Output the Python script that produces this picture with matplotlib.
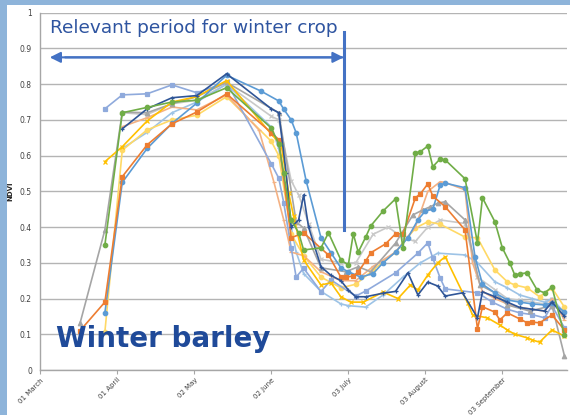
import matplotlib
matplotlib.use("Agg")
import matplotlib.pyplot as plt
from matplotlib.patches import Rectangle

# ---------------- data (days since 01 March, NDVI) ----------------
tick_days = [0, 31, 62, 93, 124, 155, 186]
tick_labels = ["01 March", "01 April", "02 May", "02 June", "03 July", "03 August", "03 September"]

periwinkle_days = [26, 33, 43, 53, 63, 75, 93, 96, 98, 101, 103, 106, 113, 117, 127, 131, 143, 152, 156, 158, 161, 163, 176, 182, 188, 193, 198, 203, 206, 211]
periwinkle_ndvi = [0.731, 0.770, 0.773, 0.798, 0.776, 0.805, 0.577, 0.537, 0.468, 0.342, 0.26, 0.285, 0.219, 0.252, 0.207, 0.221, 0.272, 0.327, 0.356, 0.313, 0.257, 0.227, 0.216, 0.19, 0.17, 0.16, 0.155, 0.146, 0.18, 0.118]

darkblue_days = [33, 43, 53, 63, 75, 93, 96, 99, 101, 104, 106, 108, 113, 117, 121, 124, 127, 131, 138, 143, 148, 152, 156, 160, 163, 170, 176, 178, 183, 188, 193, 198, 203, 206, 211]
darkblue_ndvi = [0.675, 0.731, 0.762, 0.768, 0.829, 0.731, 0.72, 0.55, 0.40, 0.42, 0.49, 0.40, 0.289, 0.265, 0.25, 0.224, 0.205, 0.205, 0.215, 0.22, 0.272, 0.21, 0.246, 0.235, 0.207, 0.216, 0.146, 0.219, 0.205, 0.19, 0.175, 0.17, 0.165, 0.19, 0.15]

green_days = [26, 33, 43, 53, 63, 75, 93, 96, 98, 101, 104, 106, 113, 116, 121, 124, 126, 128, 131, 133, 138, 143, 146, 151, 153, 156, 158, 161, 163, 171, 176, 178, 183, 186, 189, 191, 193, 196, 200, 203, 206, 211]
green_ndvi = [0.35, 0.72, 0.735, 0.75, 0.755, 0.79, 0.677, 0.633, 0.55, 0.42, 0.384, 0.336, 0.342, 0.384, 0.308, 0.294, 0.381, 0.33, 0.372, 0.403, 0.445, 0.479, 0.342, 0.608, 0.611, 0.627, 0.569, 0.591, 0.588, 0.535, 0.356, 0.482, 0.415, 0.342, 0.30, 0.266, 0.269, 0.272, 0.224, 0.216, 0.232, 0.098]

orange_days = [16, 26, 33, 43, 53, 63, 75, 93, 96, 101, 106, 116, 121, 123, 126, 128, 131, 133, 139, 143, 146, 151, 153, 156, 158, 163, 171, 176, 178, 183, 185, 188, 193, 196, 198, 201, 206, 211]
orange_ndvi = [0.11, 0.19, 0.541, 0.63, 0.689, 0.722, 0.773, 0.664, 0.645, 0.37, 0.384, 0.322, 0.26, 0.26, 0.263, 0.275, 0.305, 0.328, 0.353, 0.381, 0.381, 0.482, 0.493, 0.521, 0.487, 0.457, 0.392, 0.115, 0.177, 0.162, 0.14, 0.16, 0.143, 0.132, 0.134, 0.132, 0.154, 0.112]

gray_days = [16, 26, 33, 43, 53, 63, 75, 96, 103, 106, 113, 123, 128, 133, 143, 150, 154, 157, 160, 163, 171, 177, 183, 188, 197, 206, 211]
gray_ndvi = [0.131, 0.392, 0.722, 0.72, 0.745, 0.765, 0.805, 0.72, 0.415, 0.397, 0.286, 0.275, 0.289, 0.275, 0.355, 0.434, 0.448, 0.457, 0.467, 0.471, 0.42, 0.238, 0.216, 0.182, 0.165, 0.18, 0.04]

gold_days = [26, 33, 43, 53, 63, 75, 93, 97, 100, 102, 106, 113, 117, 121, 125, 130, 138, 144, 149, 152, 156, 160, 163, 172, 174, 180, 185, 188, 191, 196, 198, 201, 206, 211]
gold_ndvi = [0.583, 0.625, 0.697, 0.75, 0.765, 0.81, 0.66, 0.63, 0.495, 0.43, 0.308, 0.238, 0.244, 0.205, 0.19, 0.19, 0.218, 0.20, 0.238, 0.224, 0.266, 0.30, 0.317, 0.188, 0.154, 0.146, 0.126, 0.112, 0.10, 0.09, 0.084, 0.078, 0.112, 0.095]

steel_days = [26, 33, 43, 53, 63, 75, 89, 96, 98, 101, 103, 107, 113, 117, 121, 124, 129, 134, 138, 143, 148, 152, 155, 158, 161, 163, 171, 175, 178, 183, 188, 193, 198, 203, 206, 211]
steel_ndvi = [0.16, 0.525, 0.62, 0.69, 0.747, 0.825, 0.78, 0.753, 0.73, 0.70, 0.664, 0.53, 0.37, 0.328, 0.286, 0.275, 0.26, 0.27, 0.30, 0.33, 0.37, 0.42, 0.445, 0.45, 0.518, 0.523, 0.51, 0.317, 0.24, 0.216, 0.196, 0.19, 0.185, 0.182, 0.188, 0.163]

salmon_days = [33, 43, 53, 63, 75, 88, 94, 98, 101, 106, 113, 121, 127, 134, 143, 151, 156, 161, 163, 171, 174, 178, 183, 188, 193, 198, 203, 206, 211]
salmon_ndvi = [0.681, 0.706, 0.736, 0.728, 0.77, 0.672, 0.527, 0.42, 0.33, 0.32, 0.275, 0.25, 0.25, 0.29, 0.33, 0.40, 0.50, 0.527, 0.525, 0.504, 0.30, 0.22, 0.20, 0.185, 0.175, 0.17, 0.165, 0.20, 0.14]

lightgold_days = [26, 33, 43, 53, 63, 75, 93, 96, 101, 106, 113, 121, 127, 134, 143, 151, 156, 161, 171, 176, 183, 188, 191, 196, 201, 206, 211]
lightgold_ndvi = [0.107, 0.615, 0.672, 0.70, 0.713, 0.765, 0.64, 0.60, 0.38, 0.32, 0.26, 0.23, 0.24, 0.28, 0.33, 0.397, 0.415, 0.408, 0.372, 0.37, 0.28, 0.247, 0.238, 0.23, 0.205, 0.23, 0.176]

lightsteel_days = [33, 43, 53, 63, 75, 93, 96, 101, 103, 106, 113, 121, 124, 131, 138, 146, 153, 160, 171, 176, 183, 188, 193, 198, 203, 206, 211]
lightsteel_ndvi = [0.62, 0.665, 0.72, 0.75, 0.80, 0.68, 0.62, 0.40, 0.33, 0.27, 0.22, 0.185, 0.18, 0.176, 0.21, 0.26, 0.30, 0.327, 0.322, 0.30, 0.247, 0.23, 0.21, 0.20, 0.19, 0.20, 0.16]

lightgray_days = [33, 43, 53, 63, 75, 93, 96, 101, 104, 108, 113, 121, 127, 134, 140, 146, 151, 156, 161, 171, 176, 183, 188, 193, 198, 203, 206, 211]
lightgray_ndvi = [0.72, 0.715, 0.745, 0.755, 0.80, 0.71, 0.70, 0.53, 0.49, 0.41, 0.31, 0.30, 0.30, 0.38, 0.40, 0.37, 0.36, 0.40, 0.42, 0.41, 0.26, 0.225, 0.20, 0.195, 0.19, 0.185, 0.20, 0.15]

# ---------------- styles ----------------
series = [
    (lightgray_days, lightgray_ndvi, "#C9C9C9", "x"),
    (lightsteel_days, lightsteel_ndvi, "#9DC3E6", "+"),
    (lightgold_days, lightgold_ndvi, "#FFD966", "o"),
    (salmon_days, salmon_ndvi, "#F4B183", "_"),
    (periwinkle_days, periwinkle_ndvi, "#8FAADC", "s"),
    (gray_days, gray_ndvi, "#A5A5A5", "^"),
    (gold_days, gold_ndvi, "#FFC000", "x"),
    (steel_days, steel_ndvi, "#5B9BD5", "o"),
    (orange_days, orange_ndvi, "#ED7D31", "s"),
    (darkblue_days, darkblue_ndvi, "#2F5597", "+"),
    (green_days, green_ndvi, "#70AD47", "o"),
]

W, H = 570, 415
fig = plt.figure(figsize=(W / 100, H / 100), dpi=100)
fig.patch.set_facecolor("#8EB4DA")
bg = Rectangle((7 / W, 0), 1 - 7 / W, 1 - 5 / H, transform=fig.transFigure,
               facecolor="white", edgecolor="none", zorder=-10)
fig.add_artist(bg)

x0, x1 = 40.3, 567
y0, y1 = 370, 12.7
ax = fig.add_axes([x0 / W, 1 - y0 / H, (x1 - x0) / W, (y0 - y1) / H])
ax.set_zorder(1)
ax.set_facecolor("none")

for d, v, c, m in series:
    ms = 3.2 if m in ("s", "o", "^") else 3.5
    ax.plot(d, v, color=c, lw=1.2, marker=m, ms=ms, mew=0.9, mfc=c, mec=c, zorder=3)

ax.set_xlim(0, (x1 - x0) / 2.484)
ax.set_ylim(0, 1)
ax.set_yticks([i / 10 for i in range(11)])
ax.set_yticklabels(["0", "0.1", "0.2", "0.3", "0.4", "0.5", "0.6", "0.7", "0.8", "0.9", "1"])
ax.set_xticks(tick_days)
ax.set_xticklabels(tick_labels, rotation=45, ha="right", rotation_mode="anchor")
ax.tick_params(axis="y", length=0, labelsize=5.5, labelcolor="#404040", pad=6)
ax.tick_params(axis="x", length=3, color="#A6A6A6", labelsize=5.0, labelcolor="#404040", pad=2)
ax.grid(axis="y", color="#B4B4B4", lw=1.0, zorder=0)
ax.set_axisbelow(True)
for s in ("top", "right"):
    ax.spines[s].set_visible(False)
for s in ("left", "bottom"):
    ax.spines[s].set_color("#A6A6A6")
    ax.spines[s].set_linewidth(1.0)

ax.set_ylabel("NDVI", fontsize=5, fontweight="bold", color="#262626", labelpad=5)

# annotations
ax.text(3.9, 0.957, "Relevant period for winter crop", fontsize=13.3, color="#2E54A0",
        ha="left", va="center", zorder=5)
ax.annotate("", xy=(3.8, 0.875), xytext=(122.1, 0.875),
            arrowprops=dict(arrowstyle="-|>", color="#4472C4", lw=1.5,
                            mutation_scale=16, shrinkA=0, shrinkB=0), zorder=5)
ax.annotate("", xy=(122.1, 0.875), xytext=(10, 0.875),
            arrowprops=dict(arrowstyle="-|>", color="#4472C4", lw=1.5,
                            mutation_scale=16, shrinkA=0, shrinkB=0), zorder=5)
ax.plot([122.1, 122.1], [0.392, 0.947], color="#4472C4", lw=2.2, zorder=5)
ax.text(6.3, 0.087, "Winter barley", fontsize=20, fontweight="bold", color="#1F4A99",
        ha="left", va="center", zorder=6)

fig.savefig("out.png", dpi=100)
